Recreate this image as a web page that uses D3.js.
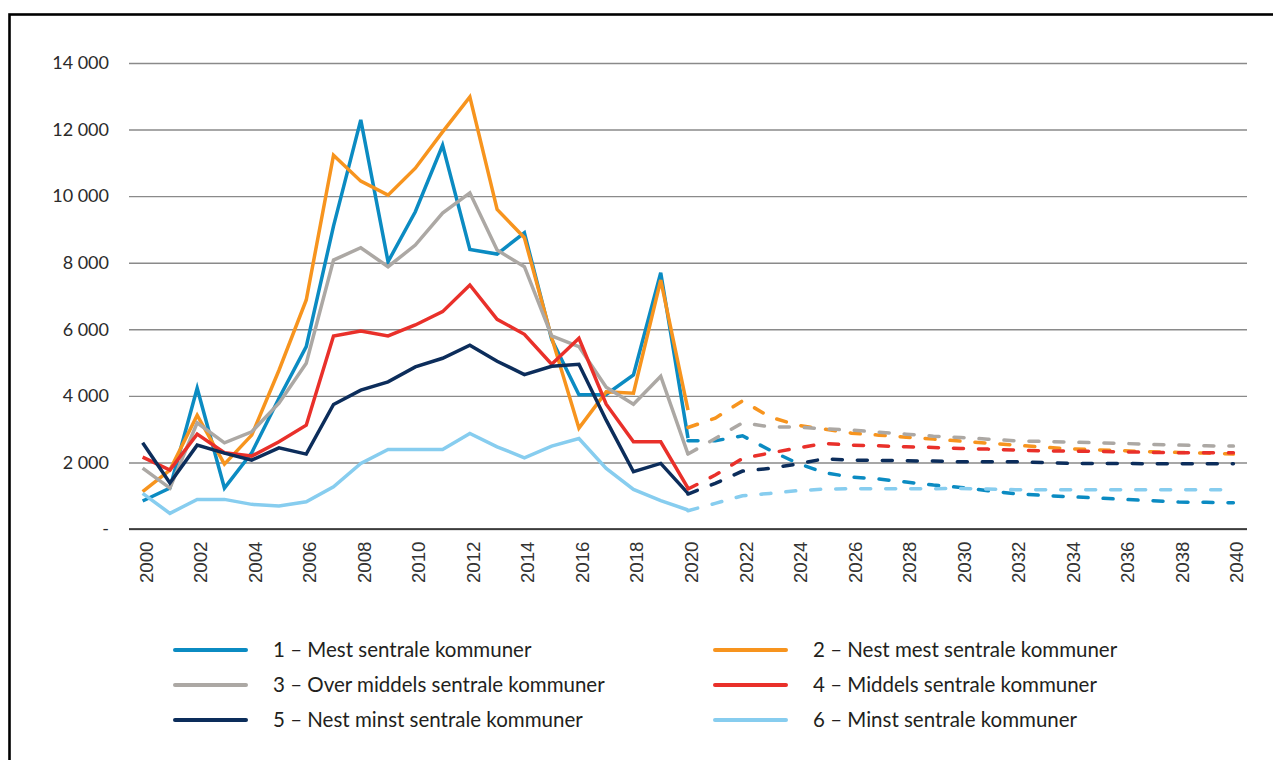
<!DOCTYPE html>
<html>
<head>
<meta charset="utf-8">
<script src="https://cdn.jsdelivr.net/npm/d3@7"></script>
<style>
  body { margin: 0; background: #fff; }
  svg { display: block; }
</style>
</head>
<body>
<svg id="chartSVG" width="1273" height="760"></svg>
<script>
// years on the x axis
var years = d3.range(2000, 2041);
var histYears = d3.range(2000, 2021);
var projYears = d3.range(2020, 2041);
var tickYears = d3.range(2000, 2041, 2);
var yTicks = [0, 2000, 4000, 6000, 8000, 10000, 12000, 14000];

var seriesNames = [
  "1 – Mest sentrale kommuner",
  "2 – Nest mest sentrale kommuner",
  "3 – Over middels sentrale kommuner",
  "4 – Middels sentrale kommuner",
  "5 – Nest minst sentrale kommuner",
  "6 – Minst sentrale kommuner"
];
var seriesColours = ["#0b8bc2", "#f7941e", "#aca8a4", "#e9302a", "#0c2d5b", "#87cdef"];

// observed, 2000-2020
var hist1 = [840, 1230, 4230, 1230, 2290, 3930, 5480, 9100, 12290, 8030, 9530, 11530, 8400, 8260, 8900, 5700, 4030, 4040, 4630, 7700, 2730];
var hist2 = [1120, 1770, 3420, 1950, 2820, 4770, 6880, 11230, 10450, 10030, 10840, 11930, 12980, 9600, 8750, 5750, 3030, 4120, 4080, 7480, 3570];
var hist3 = [1830, 1230, 3190, 2590, 2920, 3780, 4980, 8080, 8450, 7880, 8530, 9490, 10100, 8380, 7880, 5800, 5480, 4260, 3750, 4590, 2250];
var hist4 = [2160, 1770, 2850, 2290, 2190, 2620, 3120, 5800, 5950, 5800, 6130, 6530, 7330, 6300, 5850, 4950, 5730, 3750, 2620, 2620, 1230];
var hist5 = [2590, 1380, 2520, 2280, 2070, 2440, 2250, 3740, 4170, 4420, 4870, 5130, 5520, 5040, 4640, 4890, 4950, 3270, 1720, 1970, 1070];
var hist6 = [1070, 470, 890, 890, 740, 690, 820, 1270, 1970, 2390, 2390, 2390, 2870, 2470, 2140, 2490, 2720, 1820, 1190, 850, 570];

// projections, 2020-2040
var proj1 = [2650, 2650, 2800, 2370, 1980, 1690, 1560, 1500, 1410, 1320, 1250, 1150, 1060, 1010, 970, 930, 890, 850, 810, 800, 790];
var proj2 = [3050, 3330, 3850, 3370, 3120, 3000, 2880, 2820, 2760, 2700, 2640, 2580, 2520, 2460, 2410, 2380, 2350, 2320, 2300, 2280, 2250];
var proj3 = [2250, 2720, 3190, 3070, 3060, 3010, 2970, 2910, 2850, 2790, 2750, 2700, 2650, 2630, 2610, 2590, 2570, 2540, 2520, 2500, 2490];
var proj4 = [1200, 1620, 2120, 2280, 2430, 2570, 2520, 2500, 2470, 2450, 2420, 2400, 2370, 2350, 2340, 2330, 2320, 2300, 2290, 2290, 2290];
var proj5 = [1050, 1370, 1740, 1820, 1950, 2110, 2070, 2060, 2050, 2040, 2020, 2020, 2020, 2000, 1970, 1970, 1970, 1960, 1960, 1960, 1960];
var proj6 = [550, 770, 1000, 1070, 1150, 1200, 1210, 1210, 1210, 1210, 1220, 1200, 1180, 1180, 1180, 1180, 1180, 1180, 1180, 1180, 1180];

var histSeries = [hist1, hist2, hist3, hist4, hist5, hist6];
var projSeries = [proj1, proj2, proj3, proj4, proj5, proj6];

var svg = d3.select("#chartSVG");

var plotLeft = 129, plotRight = 1247;
var plotTop = 63, plotBottom = 529;

// frame round the figure
svg.append("rect")
  .attr("x", 9.5)
  .attr("y", 14.5)
  .attr("width", 1300)
  .attr("height", 800)
  .attr("fill", "none")
  .attr("stroke", "#000")
  .attr("stroke-width", 2.6);

var x = d3.scalePoint()
  .domain(years)
  .range([plotLeft, plotRight])
  .padding(0.5);

var y = d3.scaleLinear()
  .domain([0, 14000])
  .range([plotBottom, plotTop]);

var fmt = function (d) {
  if (d === 0) { return "-"; }
  return d3.format(",")(d).replace(",", " ");
};

var yAxis = svg.append("g")
  .attr("transform", "translate(" + plotLeft + ",0)")
  .call(d3.axisLeft(y)
    .tickValues(yTicks)
    .tickSize(-(plotRight - plotLeft))
    .tickPadding(20)
    .tickFormat(fmt));
yAxis.select(".domain").remove();
yAxis.selectAll(".tick line")
  .attr("stroke", "#8a8a8a")
  .attr("stroke-width", 1.4);
yAxis.selectAll(".tick text")
  .attr("fill", "#2b2b2b")
  .style("font-family", "Lato, 'Open Sans', sans-serif")
  .style("font-size", "18px");

var xAxis = svg.append("g")
  .attr("transform", "translate(0," + plotBottom + ")")
  .call(d3.axisBottom(x)
    .tickValues(tickYears)
    .tickSize(0)
    .tickSizeOuter(0));
xAxis.select(".domain")
  .attr("d", "M" + plotLeft + ",0H" + plotRight)
  .attr("stroke", "#222")
  .attr("stroke-width", 1.4);
xAxis.selectAll(".tick text")
  .attr("transform", "rotate(-90)")
  .attr("text-anchor", "end")
  .attr("x", -12.5)
  .attr("y", 9.5)
  .attr("dy", 0)
  .attr("fill", "#333")
  .style("font-family", "'Liberation Sans', Arial, sans-serif")
  .style("font-size", "18.7px");

var line = d3.line()
  .x(function (d) { return x(d.year); })
  .y(function (d) { return y(d.value); });

var lines = svg.append("g");
histSeries.forEach(function (vals, i) {
  lines.append("path")
    .datum(vals.map(function (v, j) { return { year: histYears[j], value: v }; }))
    .attr("d", line)
    .attr("fill", "none")
    .attr("stroke", seriesColours[i])
    .attr("stroke-width", 3.5)
    .attr("stroke-linejoin", "miter");
});
projSeries.forEach(function (vals, i) {
  lines.append("path")
    .datum(vals.map(function (v, j) { return { year: projYears[j], value: v }; }))
    .attr("d", line)
    .attr("fill", "none")
    .attr("stroke", seriesColours[i])
    .attr("stroke-width", 3.5)
    .attr("stroke-linecap", "round")
    .attr("stroke-dasharray", "10,15");
});

// legend, two columns
var legendCols = [175, 715];
var legendRows = [650, 685, 720];
var legend = svg.append("g");
seriesNames.forEach(function (name, i) {
  var lx = legendCols[i % 2];
  var ly = legendRows[Math.floor(i / 2)];
  legend.append("line")
    .attr("x1", lx)
    .attr("x2", lx + 71)
    .attr("y1", ly)
    .attr("y2", ly)
    .attr("stroke", seriesColours[i])
    .attr("stroke-width", 4)
    .attr("stroke-linecap", "round");
  legend.append("text")
    .attr("x", lx + 98)
    .attr("y", ly + 7)
    .attr("fill", "#231f20")
    .style("font-family", "Lato, 'Open Sans', sans-serif")
    .style("font-size", "20.5px")
    .text(name);
});
</script>
</body>
</html>
